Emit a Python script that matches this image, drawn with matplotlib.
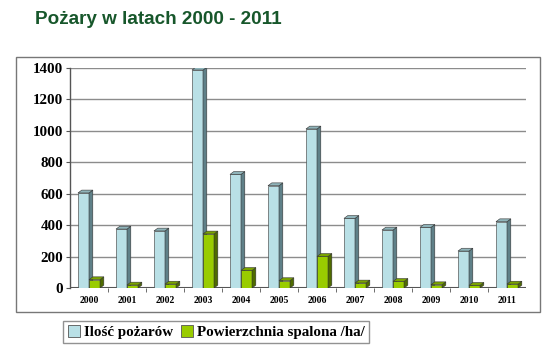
import matplotlib.pyplot as plt
from matplotlib.patches import Polygon, Rectangle
import numpy as np

# dane z wykresu
years = ['2000', '2001', '2002', '2003', '2004', '2005',
         '2006', '2007', '2008', '2009', '2010', '2011']
fires = [605, 375, 363, 1387, 723, 651, 1012, 443, 369, 386, 235, 422]
burned = [53, 19, 25, 344, 112, 47, 201, 32, 42, 21, 17, 25]

BLUE = '#b9e0e6'
BLUE_SIDE = '#5f8088'
BLUE_TOP = '#8fb4ba'
GREEN = '#99cc00'
GREEN_SIDE = '#4f6b00'
GREEN_TOP = '#7aa300'

fig = plt.figure(figsize=(5.6, 3.52), dpi=100)
fig.patch.set_facecolor('white')

# ramka wokół wykresu
fig.patches.append(Rectangle((16 / 560, 1 - 312 / 352), (540 - 16) / 560, (312 - 57) / 352,
                             transform=fig.transFigure, fill=False,
                             edgecolor='#777777', linewidth=1.0))

fig.text(35 / 560, 1 - 20 / 352, 'Pożary w latach 2000 - 2011', fontsize=13.6,
         fontweight='bold', color='#17572b', family='Liberation Sans',
         ha='left', va='center')

ax = fig.add_axes([70 / 560, 1 - 288 / 352, (526 - 70) / 560, (288 - 68) / 352])
ax.set_xlim(-0.5, 11.5)
ax.set_ylim(0, 1400)

w = 0.29
dx = 0.1
dy = 18


def bar3d(x0, h, front, side, top):
    ax.bar(x0, h, width=w, align='edge', color=front, edgecolor='#333333',
           linewidth=0.4, zorder=3)
    ax.add_patch(Polygon([(x0 + w, 0), (x0 + w + dx, dy), (x0 + w + dx, h + dy), (x0 + w, h)],
                         closed=True, facecolor=side, edgecolor='#333333',
                         linewidth=0.4, zorder=3))
    ax.add_patch(Polygon([(x0, h), (x0 + dx, h + dy), (x0 + w + dx, h + dy), (x0 + w, h)],
                         closed=True, facecolor=top, edgecolor='#333333',
                         linewidth=0.4, zorder=3))


xs = np.arange(len(years))
for i in xs:
    bar3d(i - w, fires[i], BLUE, BLUE_SIDE, BLUE_TOP)
    bar3d(i, burned[i], GREEN, GREEN_SIDE, GREEN_TOP)

for v in range(200, 1401, 200):
    ax.axhline(v, color='#8c8c8c', linewidth=1.0, zorder=1)
ax.axhline(0, color='#555555', linewidth=1.5, zorder=2)

for s in ['top', 'right', 'bottom']:
    ax.spines[s].set_visible(False)
ax.spines['left'].set_color('#555555')
ax.spines['left'].set_linewidth(1.0)

ax.set_yticks(range(0, 1401, 200))
ax.set_yticklabels([str(v) for v in range(0, 1401, 200)],
                   family='Liberation Serif', fontweight='bold', fontsize=10.8)
ax.tick_params(axis='y', length=3, color='#555555', pad=2)

ax.set_xticks(xs)
ax.set_xticklabels(years, family='Liberation Serif', fontweight='bold', fontsize=7)
ax.set_xticks(np.arange(0.5, 11, 1), minor=True)
ax.tick_params(axis='x', which='major', length=0, pad=6)
ax.tick_params(axis='x', which='minor', length=3, color='#555555')

h1 = Rectangle((0, 0), 1, 1, facecolor=BLUE, edgecolor='#555555', linewidth=0.6)
h2 = Rectangle((0, 0), 1, 1, facecolor=GREEN, edgecolor='#555555', linewidth=0.6)
leg = fig.legend([h1, h2], ['Ilość pożarów', 'Powierzchnia spalona /ha/'],
                 loc='center left', bbox_to_anchor=(63 / 560, 1 - 332 / 352),
                 ncol=2, frameon=True, fancybox=False, handlelength=0.8,
                 handleheight=0.8, handletextpad=0.3, columnspacing=0.5,
                 borderpad=0.3, borderaxespad=0,
                 prop={'family': 'Liberation Serif', 'weight': 'bold', 'size': 10.8})
leg.get_frame().set_edgecolor('#777777')
leg.get_frame().set_linewidth(1.0)

fig.savefig('out.png', dpi=100)
